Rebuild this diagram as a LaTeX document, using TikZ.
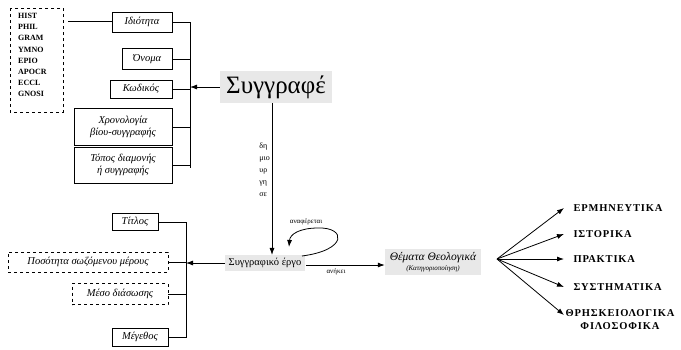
\documentclass[tikz,border=0pt]{standalone}
\usepackage{fontspec}
\setmainfont{Liberation Serif}
\usetikzlibrary{arrows.meta,patterns}
\begin{document}
\begin{tikzpicture}[x=1pt,y=-1pt,
  attr/.style={draw,thick,font=\fontsize{10.5}{12.5}\selectfont\itshape,align=center,inner sep=2pt},
  dattr/.style={attr,dashed},
  shade/.style={fill=black!9,inner sep=3pt},
  cat/.style={font=\fontsize{10.5}{13}\selectfont\bfseries\addfontfeature{LetterSpace=8},anchor=west,align=center},
  arr/.style={-{Latex[length=7pt,width=5pt]},thick},
  lbl/.style={font=\fontsize{7}{8}\selectfont}
]
\useasboundingbox (0,0) rectangle (681,349);
% list box
\draw[dashed,thick] (10,8) rectangle (63,112);
\node[font=\fontsize{8}{11.2}\selectfont\bfseries,align=left,anchor=north west,inner sep=0pt] (list) at (18,13)
  {HIST\\PHIL\\GRAM\\YMNO\\EPIO\\APOCR\\ECCL\\GNOSI};
% attribute boxes of the author
\node[attr,minimum width=60pt,minimum height=20pt] (idio) at (142,22) {Ιδιότητα};
\node[attr,minimum width=50pt,minimum height=21pt] (onoma) at (147,59) {Όνομα};
\node[attr,minimum width=62pt,minimum height=18pt] (kod) at (141,89) {Κωδικός};
\node[attr,minimum width=98pt,minimum height=37pt] (chron) at (123,127) {Χρονολογία\\βίου-συγγραφής};
\node[attr,minimum width=98pt,minimum height=36pt] (topos) at (123,165) {Τόπος διαμονής\\ή συγγραφής};
\coordinate (busA1) at (190,22);
\coordinate (busA2) at (190,168);
\draw[thick] (busA1) -- (busA2);
\foreach \n in {idio,onoma,kod,chron,topos} \draw[thick] (\n.east) -- (\n.east -| busA1);
\coordinate (lstart) at (68,21);
\draw[thick] (lstart) -- (lstart -| idio.west);
% author
\node[shade,font=\fontsize{25}{28}\selectfont,minimum width=112pt,minimum height=32pt] (syg) at (276,87) {Συγγραφέ};
\draw[arr] (syg.west) -- (syg.west -| busA1);
% work
\node[shade,font=\fontsize{10.5}{12}\selectfont,minimum width=80pt] (erg) at (265,263) {Συγγραφικό έργο};
\coordinate (sygdown) at (272,103);
\draw[arr] (sygdown) -- (sygdown |- erg.north);
\node[font=\fontsize{8}{12}\selectfont,align=left,anchor=north east,inner sep=0pt] (dim) at (270,143) {δη\\μιο\\υρ\\γη\\σε};
% loop
\coordinate (l0) at (302,256);
\coordinate (l1) at (318,228);
\coordinate (l2) at (289,247);
\draw[arr] (l0) .. controls (348,250) and (346,227) .. (l1) .. controls (300,228) and (290,234) .. (l2);
\node[lbl] (anaf) at (306,222) {αναφέρεται};
% theme
\node[shade,font=\fontsize{11.5}{11}\selectfont\itshape,align=center,minimum width=96pt] (them) at (433,262)
  {Θέματα Θεολογικά\\[-1pt]{\fontsize{7}{8}\selectfont (Κατηγοριοποίηση)}};
\coordinate (h0) at (306,265);
\draw[arr] (h0) -- (h0 -| them.west);
\node[lbl] (anik) at (336,272) {ανήκει};
% categories
\coordinate (fan) at (497,259);
\node[cat] (c1) at (570,208) {ΕΡΜΗΝΕΥΤΙΚΑ};
\node[cat] (c2) at (570,234) {ΙΣΤΟΡΙΚΑ};
\node[cat] (c3) at (570,259) {ΠΡΑΚΤΙΚΑ};
\node[cat] (c4) at (570,287) {ΣΥΣΤΗΜΑΤΙΚΑ};
\node[cat,anchor=north] (c5) at (620,306) {ΘΡΗΣΚΕΙΟΛΟΓΙΚΑ\\ΦΙΛΟΣΟΦΙΚΑ};
\foreach \n in {c1,c2,c3,c4} \draw[arr] (fan) -- ([xshift=-6pt]\n.west);
\coordinate (c5t) at (564,315);
\draw[arr] (fan) -- (c5t);
% work attributes
\node[attr,minimum width=46pt,minimum height=17pt] (titl) at (135,222) {Τίτλος};
\node[dattr,minimum width=160pt,minimum height=20pt] (pos) at (88,262) {Ποσότητα σωζόμενου μέρους};
\node[dattr,minimum width=96pt,minimum height=21pt] (meso) at (120,294) {Μέσο διάσωσης};
\node[attr,minimum width=56pt,minimum height=18pt] (meg) at (140,337) {Μέγεθος};
\coordinate (busB1) at (186,222);
\coordinate (busB2) at (186,338);
\draw[thick] (busB1) -- (busB2);
\foreach \n in {titl,pos,meso,meg} \draw[thick] (\n.east) -- (\n.east -| busB1);
\draw[arr] (erg.west) -- (erg.west -| busB1);
\end{tikzpicture}
\end{document}
